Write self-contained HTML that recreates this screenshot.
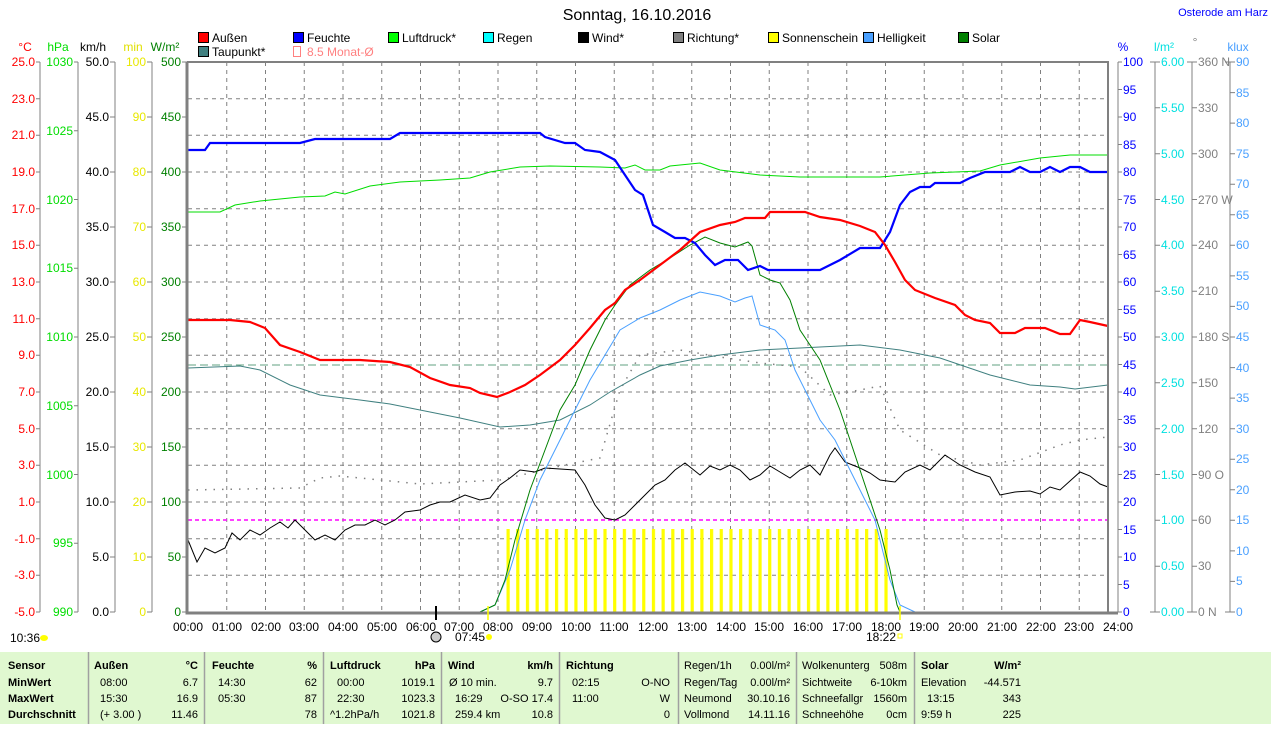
<!DOCTYPE html>
<html><head><meta charset="utf-8"><style>
body{margin:0;background:#fff;width:1274px;height:724px;overflow:hidden;font-family:"Liberation Sans",sans-serif}
svg text{font-family:"Liberation Sans",sans-serif;font-size:12px}
svg g.tb text{font-size:11px}
</style></head><body>
<svg width="1274" height="724" viewBox="0 0 1274 724" xmlns="http://www.w3.org/2000/svg">
<defs>
<pattern id="sun" patternUnits="userSpaceOnUse" x="506.5" y="0" width="9.69" height="724"><rect x="0" y="0" width="3.2" height="724" fill="#ffff00"/></pattern>
</defs>
<text x="637" y="20" text-anchor="middle" style="font-size:16px">Sonntag, 16.10.2016</text>
<text x="1268" y="16" text-anchor="end" fill="#0000ff" style="font-size:11px">Osterode am Harz</text>

<g style="font-size:11px">
<rect x="198.5" y="32.5" width="10" height="10" fill="#ff0000" stroke="#000"/><text x="212" y="42">Außen</text>
<rect x="293.5" y="32.5" width="10" height="10" fill="#0000ff" stroke="#000"/><text x="307" y="42">Feuchte</text>
<rect x="388.5" y="32.5" width="10" height="10" fill="#00ff00" stroke="#000"/><text x="402" y="42">Luftdruck*</text>
<rect x="483.5" y="32.5" width="10" height="10" fill="#00ffff" stroke="#000"/><text x="497" y="42">Regen</text>
<rect x="578.5" y="32.5" width="10" height="10" fill="#000" stroke="#000"/><text x="592" y="42">Wind*</text>
<rect x="673.5" y="32.5" width="10" height="10" fill="#808080" stroke="#000"/><text x="687" y="42">Richtung*</text>
<rect x="768.5" y="32.5" width="10" height="10" fill="#ffff00" stroke="#000"/><text x="782" y="42">Sonnenschein</text>
<rect x="863.5" y="32.5" width="10" height="10" fill="#4aa0ff" stroke="#000"/><text x="877" y="42">Helligkeit</text>
<rect x="958.5" y="32.5" width="10" height="10" fill="#008000" stroke="#000"/><text x="972" y="42">Solar</text>
<rect x="198.5" y="46.5" width="10" height="10" fill="#408080" stroke="#000"/><text x="212" y="56">Taupunkt*</text>
<rect x="293.5" y="46.5" width="7" height="10" fill="none" stroke="#ff8080"/><text x="307" y="56" fill="#ff8080">8.5 Monat-Ø</text>
</g>

<text x="25" y="51" fill="#ff0000" text-anchor="middle">°C</text>
<text x="58" y="51" fill="#00dd00" text-anchor="middle">hPa</text>
<text x="93" y="51" text-anchor="middle">km/h</text>
<text x="133" y="51" fill="#e0e000" text-anchor="middle">min</text>
<text x="165" y="51" fill="#008000" text-anchor="middle">W/m²</text>
<text x="1123" y="51" fill="#0000ff" text-anchor="middle">%</text>
<text x="1164" y="51" fill="#00e0e0" text-anchor="middle">l/m²</text>
<text x="1195" y="46" fill="#808080" text-anchor="middle">°</text>
<text x="1238" y="51" fill="#4aa0ff" text-anchor="middle">klux</text>

<g stroke="#808080" stroke-dasharray="4 4" stroke-width="1">
<path d="M188 98.7H1108M188 135.3H1108M188 172H1108M188 208.7H1108M188 245.3H1108M188 282H1108M188 318.7H1108M188 355.3H1108M188 392H1108M188 428.7H1108M188 465.3H1108M188 502H1108M188 538.7H1108M188 575.3H1108"/>
<path d="M226.75 62V612M265.5 62V612M304.25 62V612M343 62V612M381.75 62V612M420.5 62V612M459.25 62V612M498 62V612M536.75 62V612M575.5 62V612M614.25 62V612M653 62V612M691.75 62V612M730.5 62V612M769.25 62V612M808 62V612M846.75 62V612M885.5 62V612M924.25 62V612M963 62V612M1001.75 62V612M1040.5 62V612M1079.25 62V612"/>
</g>

<line x1="188" y1="365" x2="1108" y2="365" stroke="#60a080" stroke-dasharray="8 4"/>
<line x1="188" y1="520" x2="1108" y2="520" stroke="#ff00ff" stroke-dasharray="4 3" stroke-width="1.5"/>

<rect x="506" y="529" width="384" height="83" fill="url(#sun)"/>

<polyline fill="none" stroke="#808080" stroke-width="1.5" stroke-dasharray="1.5 7" points="188,490 300,488 320,478 340,476 380,480 420,484 500,480 560,466 600,458 620,390 640,355 680,350 720,357 760,363 800,367 830,395 860,390 880,386 900,430 940,455 980,465 1020,460 1060,445 1080,440 1108,437"/>

<polyline fill="none" stroke="#408080" stroke-width="1" points="188,368 240,366 260,370 290,385 320,395 360,400 390,404 420,410 460,418 500,427 530,425 560,420 590,405 610,392 640,375 660,366 690,360 720,355 760,350 800,348 860,345 900,350 940,358 990,375 1030,385 1060,387 1075,389 1108,385"/>

<polyline fill="none" stroke="#00dd00" stroke-width="1" points="188,212 220,212 235,205 260,201 300,197 325,196 335,192 345,194 370,186 400,182 440,180 470,178 490,172 520,167 550,166 600,167 625,168 635,165 645,170 660,170 670,166 700,163 720,170 760,175 800,177 880,177 930,173 980,171 1000,165 1040,158 1070,155 1108,155"/>

<polyline fill="none" stroke="#000" stroke-width="1" points="188,540 197,562 205,548 215,553 225,548 232,533 240,540 250,530 260,535 270,528 280,522 288,528 295,520 305,530 315,540 325,535 335,540 345,530 355,525 365,525 375,520 385,525 395,520 405,512 420,510 430,505 440,502 450,502 465,495 480,500 490,498 500,485 510,478 520,470 535,472 545,468 575,470 585,485 595,505 605,518 615,520 625,515 635,505 645,495 655,485 665,480 675,470 685,463 700,475 710,466 720,470 730,465 740,470 750,480 760,475 770,466 780,472 790,478 800,470 810,465 820,475 830,455 835,448 845,462 860,468 870,473 880,480 895,482 905,472 920,465 930,470 945,455 960,465 975,472 990,477 1000,495 1015,492 1030,491 1040,494 1050,487 1060,490 1080,472 1090,476 1100,484 1108,487"/>

<polyline fill="none" stroke="#4aa0ff" stroke-width="1" points="188,612 480,612 495,605 510,570 525,520 540,480 560,440 575,410 590,380 605,355 620,330 640,318 660,310 680,300 700,292 720,296 735,302 745,298 752,296 760,325 775,330 785,340 795,370 800,380 810,400 820,420 835,440 850,470 860,490 875,520 890,580 900,605 915,612"/>

<polyline fill="none" stroke="#008000" stroke-width="1" points="188,612 480,612 495,605 505,580 515,540 530,490 545,450 560,410 575,385 590,350 605,320 615,305 630,285 650,270 670,258 690,245 705,237 720,243 735,247 748,242 752,246 760,275 770,280 780,283 790,300 800,330 810,345 820,360 830,385 840,410 850,440 860,470 870,500 880,530 890,570 897,605 900,612"/>

<polyline fill="none" stroke="#0000ff" stroke-width="2.2" points="188,150 205,150 210,143 300,143 315,139 390,139 400,133 540,133 545,137 565,143 575,143 585,150 600,152 615,160 625,175 635,190 643,195 653,225 665,232 675,238 685,238 695,243 705,255 715,265 725,260 738,260 748,270 760,266 768,270 820,270 840,260 860,248 880,248 890,232 900,205 910,192 920,187 930,187 935,183 960,183 970,178 985,172 1010,172 1020,167 1030,172 1040,172 1050,167 1060,172 1070,167 1080,167 1090,172 1108,172"/>

<polyline fill="none" stroke="#ff0000" stroke-width="2.2" points="188,320 230,320 250,322 265,328 280,345 300,352 320,360 360,360 390,362 410,367 430,378 450,385 470,388 480,393 497,397 510,392 525,385 540,375 560,360 575,345 590,328 605,310 615,303 625,290 640,280 660,265 680,250 700,232 720,225 735,222 745,218 765,218 770,212 805,212 820,217 840,220 860,226 875,232 885,245 895,262 905,280 915,290 935,298 955,305 965,315 975,320 990,323 1000,333 1015,333 1025,328 1045,328 1060,334 1070,334 1080,320 1090,322 1108,326"/>

<g stroke="#808080" fill="none">
<path d="M187 62V613H1118" stroke-width="3"/>
<path d="M187 62H1108V612" stroke-width="2"/>
<path d="M1118 62V612"/>
<path d="M40 62V612M78 62V612M115 62V612M152 62V612"/>
<path d="M1155 62V612M1192 62V612M1230 62V612"/>
</g>
<line x1="436" y1="606" x2="436" y2="620" stroke="#000" stroke-width="2"/>
<line x1="488" y1="606" x2="488" y2="620" stroke="#ffff00" stroke-width="1.5"/>
<line x1="900" y1="606" x2="900" y2="620" stroke="#ffff00" stroke-width="1.5"/>

<g stroke="#808080">
<path d="M36 62H40M36 98.7H40M36 135.3H40M36 172H40M36 208.7H40M36 245.3H40M36 282H40M36 318.7H40M36 355.3H40M36 392H40M36 428.7H40M36 465.3H40M36 502H40M36 538.7H40M36 575.3H40M36 612H40"/>
<path d="M74 62H78M74 130.75H78M74 199.5H78M74 268.25H78M74 337H78M74 405.75H78M74 474.5H78M74 543.25H78M74 612H78"/>
<path d="M110 62H115M110 117H115M110 172H115M110 227H115M110 282H115M110 337H115M110 392H115M110 447H115M110 502H115M110 557H115M110 612H115"/>
<path d="M147 62H152M147 117H152M147 172H152M147 227H152M147 282H152M147 337H152M147 392H152M147 447H152M147 502H152M147 557H152M147 612H152"/>
<path d="M182 62H187M182 117H187M182 172H187M182 227H187M182 282H187M182 337H187M182 392H187M182 447H187M182 502H187M182 557H187M182 612H187"/>
</g>
<g fill="#ff0000" text-anchor="end">
<text x="35" y="66">25.0</text><text x="35" y="103">23.0</text><text x="35" y="139">21.0</text><text x="35" y="176">19.0</text><text x="35" y="213">17.0</text><text x="35" y="249">15.0</text><text x="35" y="286">13.0</text><text x="35" y="323">11.0</text><text x="35" y="359">9.0</text><text x="35" y="396">7.0</text><text x="35" y="433">5.0</text><text x="35" y="469">3.0</text><text x="35" y="506">1.0</text><text x="35" y="543">-1.0</text><text x="35" y="579">-3.0</text><text x="35" y="616">-5.0</text>
</g>
<g fill="#00dd00" text-anchor="end">
<text x="73" y="66">1030</text><text x="73" y="135">1025</text><text x="73" y="204">1020</text><text x="73" y="272">1015</text><text x="73" y="341">1010</text><text x="73" y="410">1005</text><text x="73" y="479">1000</text><text x="73" y="547">995</text><text x="73" y="616">990</text>
</g>
<g fill="#000" text-anchor="end">
<text x="109" y="66">50.0</text><text x="109" y="121">45.0</text><text x="109" y="176">40.0</text><text x="109" y="231">35.0</text><text x="109" y="286">30.0</text><text x="109" y="341">25.0</text><text x="109" y="396">20.0</text><text x="109" y="451">15.0</text><text x="109" y="506">10.0</text><text x="109" y="561">5.0</text><text x="109" y="616">0.0</text>
</g>
<g fill="#e8e800" text-anchor="end">
<text x="146" y="66">100</text><text x="146" y="121">90</text><text x="146" y="176">80</text><text x="146" y="231">70</text><text x="146" y="286">60</text><text x="146" y="341">50</text><text x="146" y="396">40</text><text x="146" y="451">30</text><text x="146" y="506">20</text><text x="146" y="561">10</text><text x="146" y="616">0</text>
</g>
<g fill="#008000" text-anchor="end">
<text x="181" y="66">500</text><text x="181" y="121">450</text><text x="181" y="176">400</text><text x="181" y="231">350</text><text x="181" y="286">300</text><text x="181" y="341">250</text><text x="181" y="396">200</text><text x="181" y="451">150</text><text x="181" y="506">100</text><text x="181" y="561">50</text><text x="181" y="616">0</text>
</g>

<g stroke="#808080">
<path d="M1118 62H1122M1118 89.5H1122M1118 117H1122M1118 144.5H1122M1118 172H1122M1118 199.5H1122M1118 227H1122M1118 254.5H1122M1118 282H1122M1118 309.5H1122M1118 337H1122M1118 364.5H1122M1118 392H1122M1118 419.5H1122M1118 447H1122M1118 474.5H1122M1118 502H1122M1118 529.5H1122M1118 557H1122M1118 584.5H1122M1118 612H1122"/>
<path d="M1150 62H1160M1155 107.8H1160M1155 153.7H1160M1155 199.5H1160M1155 245.3H1160M1155 291.2H1160M1155 337H1160M1155 382.8H1160M1155 428.7H1160M1155 474.5H1160M1155 520.3H1160M1155 566.2H1160M1150 612H1160"/>
<path d="M1187 62H1197M1192 107.8H1197M1192 153.7H1197M1192 199.5H1197M1192 245.3H1197M1192 291.2H1197M1192 337H1197M1192 382.8H1197M1192 428.7H1197M1192 474.5H1197M1192 520.3H1197M1192 566.2H1197M1187 612H1197"/>
<path d="M1225 62H1235M1230 92.6H1235M1230 123.1H1235M1230 153.7H1235M1230 184.2H1235M1230 214.8H1235M1230 245.3H1235M1230 275.9H1235M1230 306.4H1235M1230 337H1235M1230 367.6H1235M1230 398.1H1235M1230 428.7H1235M1230 459.2H1235M1230 489.8H1235M1230 520.3H1235M1230 550.9H1235M1230 581.4H1235M1225 612H1235"/>
</g>
<g fill="#0000ff">
<text x="1123" y="66">100</text><text x="1123" y="94">95</text><text x="1123" y="121">90</text><text x="1123" y="149">85</text><text x="1123" y="176">80</text><text x="1123" y="204">75</text><text x="1123" y="231">70</text><text x="1123" y="259">65</text><text x="1123" y="286">60</text><text x="1123" y="314">55</text><text x="1123" y="341">50</text><text x="1123" y="369">45</text><text x="1123" y="396">40</text><text x="1123" y="424">35</text><text x="1123" y="451">30</text><text x="1123" y="479">25</text><text x="1123" y="506">20</text><text x="1123" y="534">15</text><text x="1123" y="561">10</text><text x="1123" y="589">5</text><text x="1123" y="616">0</text>
</g>
<g fill="#00e0e0">
<text x="1161" y="66">6.00</text><text x="1161" y="112">5.50</text><text x="1161" y="158">5.00</text><text x="1161" y="204">4.50</text><text x="1161" y="249">4.00</text><text x="1161" y="295">3.50</text><text x="1161" y="341">3.00</text><text x="1161" y="387">2.50</text><text x="1161" y="433">2.00</text><text x="1161" y="479">1.50</text><text x="1161" y="524">1.00</text><text x="1161" y="570">0.50</text><text x="1161" y="616">0.00</text>
</g>
<g fill="#808080">
<text x="1198" y="66">360 N</text><text x="1198" y="112">330</text><text x="1198" y="158">300</text><text x="1198" y="204">270 W</text><text x="1198" y="249">240</text><text x="1198" y="295">210</text><text x="1198" y="341">180 S</text><text x="1198" y="387">150</text><text x="1198" y="433">120</text><text x="1198" y="479">90 O</text><text x="1198" y="524">60</text><text x="1198" y="570">30</text><text x="1198" y="616">0 N</text>
</g>
<g fill="#4aa0ff">
<text x="1236" y="66">90</text><text x="1236" y="97">85</text><text x="1236" y="127">80</text><text x="1236" y="158">75</text><text x="1236" y="188">70</text><text x="1236" y="219">65</text><text x="1236" y="249">60</text><text x="1236" y="280">55</text><text x="1236" y="310">50</text><text x="1236" y="341">45</text><text x="1236" y="372">40</text><text x="1236" y="402">35</text><text x="1236" y="433">30</text><text x="1236" y="463">25</text><text x="1236" y="494">20</text><text x="1236" y="524">15</text><text x="1236" y="555">10</text><text x="1236" y="585">5</text><text x="1236" y="616">0</text>
</g>

<g text-anchor="middle">
<text x="188" y="631">00:00</text><text x="227" y="631">01:00</text><text x="266" y="631">02:00</text><text x="304" y="631">03:00</text><text x="343" y="631">04:00</text><text x="382" y="631">05:00</text><text x="421" y="631">06:00</text><text x="459" y="631">07:00</text><text x="498" y="631">08:00</text><text x="537" y="631">09:00</text><text x="576" y="631">10:00</text><text x="614" y="631">11:00</text><text x="653" y="631">12:00</text><text x="692" y="631">13:00</text><text x="731" y="631">14:00</text><text x="769" y="631">15:00</text><text x="808" y="631">16:00</text><text x="847" y="631">17:00</text><text x="886" y="631">18:00</text><text x="924" y="631">19:00</text><text x="963" y="631">20:00</text><text x="1002" y="631">21:00</text><text x="1041" y="631">22:00</text><text x="1079" y="631">23:00</text><text x="1118" y="631">24:00</text>
</g>
<text x="10" y="642">10:36</text>
<ellipse cx="44" cy="638" rx="4" ry="3" fill="#ffff00"/>
<circle cx="436" cy="637" r="5" fill="#ccc" stroke="#000"/>
<text x="455" y="641">07:45</text>
<circle cx="489" cy="637" r="3" fill="#ffff00"/>
<text x="866" y="641">18:22</text>
<rect x="898" y="634" width="4" height="4" fill="none" stroke="#ffff00"/>

<rect x="0" y="652" width="1271" height="72" fill="#e0f8d0"/>
<g stroke="#a0a0a0" stroke-width="1.5">
<path d="M88.5 652V724M204.5 652V724M323.5 652V724M441.5 652V724M559.5 652V724M678.5 652V724M796.5 652V724M914.5 652V724"/>
</g>
<g class="tb">
<g font-weight="bold">
<text x="8" y="669">Sensor</text><text x="8" y="686">MinWert</text><text x="8" y="702">MaxWert</text><text x="8" y="718">Durchschnitt</text>
<text x="94" y="669">Außen</text><text x="198" y="669" text-anchor="end">°C</text>
<text x="212" y="669">Feuchte</text><text x="317" y="669" text-anchor="end">%</text>
<text x="330" y="669">Luftdruck</text><text x="435" y="669" text-anchor="end">hPa</text>
<text x="448" y="669">Wind</text><text x="553" y="669" text-anchor="end">km/h</text>
<text x="566" y="669">Richtung</text>
<text x="921" y="669">Solar</text><text x="1021" y="669" text-anchor="end">W/m²</text>
</g>
<text x="100" y="686">08:00</text><text x="198" y="686" text-anchor="end">6.7</text>
<text x="100" y="702">15:30</text><text x="198" y="702" text-anchor="end">16.9</text>
<text x="100" y="718">(+ 3.00 )</text><text x="198" y="718" text-anchor="end">11.46</text>
<text x="218" y="686">14:30</text><text x="317" y="686" text-anchor="end">62</text>
<text x="218" y="702">05:30</text><text x="317" y="702" text-anchor="end">87</text>
<text x="317" y="718" text-anchor="end">78</text>
<text x="337" y="686">00:00</text><text x="435" y="686" text-anchor="end">1019.1</text>
<text x="337" y="702">22:30</text><text x="435" y="702" text-anchor="end">1023.3</text>
<text x="330" y="718">^1.2hPa/h</text><text x="435" y="718" text-anchor="end">1021.8</text>
<text x="449" y="686">Ø 10 min.</text><text x="553" y="686" text-anchor="end">9.7</text>
<text x="455" y="702">16:29</text><text x="553" y="702" text-anchor="end">O-SO 17.4</text>
<text x="455" y="718">259.4 km</text><text x="553" y="718" text-anchor="end">10.8</text>
<text x="572" y="686">02:15</text><text x="670" y="686" text-anchor="end">O-NO</text>
<text x="572" y="702">11:00</text><text x="670" y="702" text-anchor="end">W</text>
<text x="670" y="718" text-anchor="end">0</text>
<text x="684" y="669">Regen/1h</text><text x="790" y="669" text-anchor="end">0.00l/m²</text>
<text x="684" y="686">Regen/Tag</text><text x="790" y="686" text-anchor="end">0.00l/m²</text>
<text x="684" y="702">Neumond</text><text x="790" y="702" text-anchor="end">30.10.16</text>
<text x="684" y="718">Vollmond</text><text x="790" y="718" text-anchor="end">14.11.16</text>
<text x="802" y="669">Wolkenunterg</text><text x="907" y="669" text-anchor="end">508m</text>
<text x="802" y="686">Sichtweite</text><text x="907" y="686" text-anchor="end">6-10km</text>
<text x="802" y="702">Schneefallgr</text><text x="907" y="702" text-anchor="end">1560m</text>
<text x="802" y="718">Schneehöhe</text><text x="907" y="718" text-anchor="end">0cm</text>
<text x="921" y="686">Elevation</text><text x="1021" y="686" text-anchor="end">-44.571</text>
<text x="927" y="702">13:15</text><text x="1021" y="702" text-anchor="end">343</text>
<text x="921" y="718">9:59 h</text><text x="1021" y="718" text-anchor="end">225</text>
</g>
</svg>
</body></html>
